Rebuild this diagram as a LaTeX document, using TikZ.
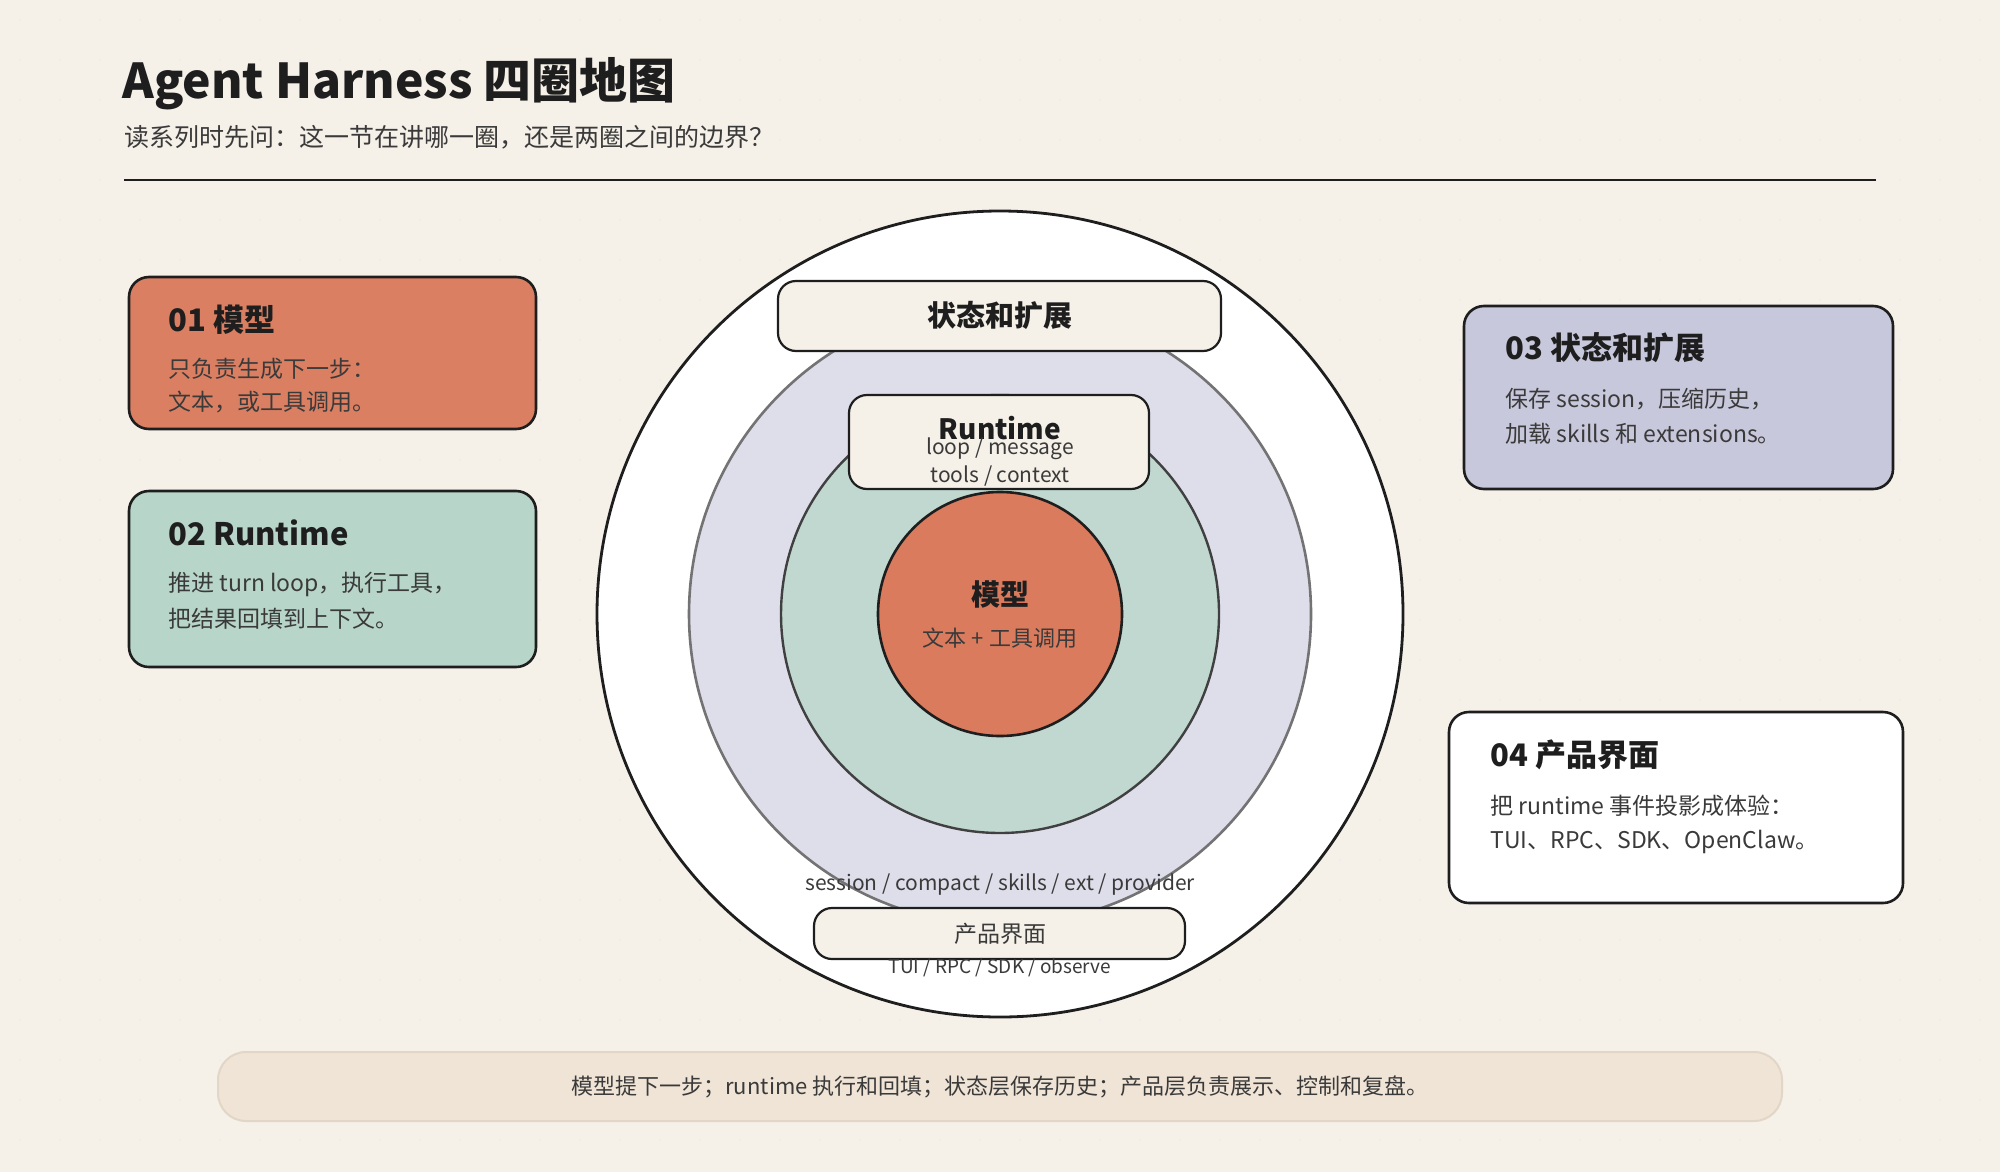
\documentclass[tikz,border=0pt]{standalone}
\usepackage{fontspec}
\setmainfont{Noto Sans CJK SC}
\definecolor{bg}{HTML}{F5F0E8}
\definecolor{ink}{HTML}{1E1E1E}
\definecolor{txt}{HTML}{3A3A3A}
\definecolor{cmodel}{HTML}{DB7F62}
\definecolor{crun}{HTML}{B7D5C8}
\definecolor{cstate}{HTML}{C8C8DD}
\definecolor{lav}{HTML}{DEDDEA}
\definecolor{grn}{HTML}{C0D8CF}
\definecolor{org}{HTML}{DB7B5E}
\definecolor{cream}{HTML}{F5F0E8}
\definecolor{barf}{HTML}{F0E4D6}
\definecolor{barb}{HTML}{E2D6C6}
\begin{document}
\begin{tikzpicture}[x=0.5pt,y=-0.5pt,
  card/.style={draw=ink,line width=1.3pt,rounded corners=10pt},
  ctitle/.style={anchor=west,font=\fontsize{15.5}{18}\selectfont\bfseries,text=ink,inner sep=0},
  cbody/.style={anchor=west,font=\fontsize{11.5}{14}\selectfont,text=txt,inner sep=0},
  pill/.style={draw=ink,line width=1.1pt,fill=cream,rounded corners=9pt},
  small/.style={font=\fontsize{10.5}{12}\selectfont,text=txt,inner sep=0}]
\fill[bg] (0,0) rectangle (2000,1172);
\useasboundingbox (0,0) rectangle (2000,1172);
\foreach \i in {0,...,49}{\foreach \j in {0,...,29}{\fill[black!7] (20+\i*40,20+\j*40) circle (1);}}
\node[anchor=west,inner sep=0,font=\fontsize{24}{28}\selectfont\bfseries,text=ink] (title) at (122,84) {Agent Harness 四圈地图};
\node[anchor=west,inner sep=0,font=\fontsize{12.5}{15}\selectfont,text=txt] (sub) at (124,137) {读系列时先问：这一节在讲哪一圈，还是两圈之间的边界？};
\draw[ink,line width=1.3pt] (124,180) -- (1876,180);
% circles
\node[circle,draw=ink,line width=1.4pt,fill=white,minimum size=403pt] (c4) at (1000,614) {};
\node[circle,draw=black!55,line width=1.3pt,fill=lav,minimum size=311pt] (c3) at (1000,614) {};
\node[circle,draw=ink!85,line width=1.2pt,fill=grn,minimum size=219pt] (c2) at (1000,614) {};
\node[circle,draw=ink,line width=1.3pt,fill=org,minimum size=122pt] (c1) at (1000,614) {};
\node[inner sep=0,font=\fontsize{14.5}{17}\selectfont\bfseries,text=ink] (m1) at (1000,594) {模型};
\node[small,font=\fontsize{11}{13}\selectfont] (m2) at (1000,638) {文本 + 工具调用};
% state pill
\draw[pill] (778,281) rectangle (1221,351);
\node[inner sep=0,font=\fontsize{14.5}{17}\selectfont\bfseries,text=ink] (s1) at (1000,315) {状态和扩展};
% runtime pill
\draw[pill] (849,395) rectangle (1149,489);
\node[inner sep=0,font=\fontsize{14}{16}\selectfont\bfseries,text=ink] (r1) at (1000,428) {Runtime};
\node[small] (r2) at (1000,449) {loop / message};
\node[small] (r3) at (1000,476) {tools / context};
% product
\node[small] (p0) at (1000,885) {session / compact / skills / ext / provider};
\draw[pill] (814,908) rectangle (1185,959);
\node[inner sep=0,font=\fontsize{11.5}{14}\selectfont,text=txt] (p1) at (1000,934) {产品界面};
\node[small,font=\fontsize{9.5}{11}\selectfont] (p2) at (1000,968) {TUI / RPC / SDK / observe};
% cards
\draw[card,fill=cmodel] (129,277) rectangle (536,429);
\node[ctitle] (t1) at (168,320) {01 模型};
\node[cbody] (b1a) at (168,369) {只负责生成下一步：};
\node[cbody] (b1b) at (168,402) {文本，或工具调用。};
\draw[card,fill=crun] (129,491) rectangle (536,667);
\node[ctitle] (t2) at (168,533) {02 Runtime};
\node[cbody] (b2a) at (168,584) {推进 turn loop，执行工具，};
\node[cbody] (b2b) at (168,619) {把结果回填到上下文。};
\draw[card,fill=cstate] (1464,306) rectangle (1893,489);
\node[ctitle] (t3) at (1505,348) {03 状态和扩展};
\node[cbody] (b3a) at (1505,399) {保存 session，压缩历史，};
\node[cbody] (b3b) at (1505,434) {加载 skills 和 extensions。};
\draw[card,fill=white] (1449,712) rectangle (1903,903);
\node[ctitle] (t4) at (1490,755) {04 产品界面};
\node[cbody] (b4a) at (1490,806) {把 runtime 事件投影成体验：};
\node[cbody] (b4b) at (1490,842) {TUI、RPC、SDK、OpenClaw。};
% bottom bar
\draw[draw=barb,line width=1pt,fill=barf,rounded corners=14pt] (218,1052) rectangle (1782,1121);
\node[inner sep=0,font=\fontsize{11}{13}\selectfont,text=txt] (bar) at (1000,1087) {模型提下一步；runtime 执行和回填；状态层保存历史；产品层负责展示、控制和复盘。};
\end{tikzpicture}
\end{document}
